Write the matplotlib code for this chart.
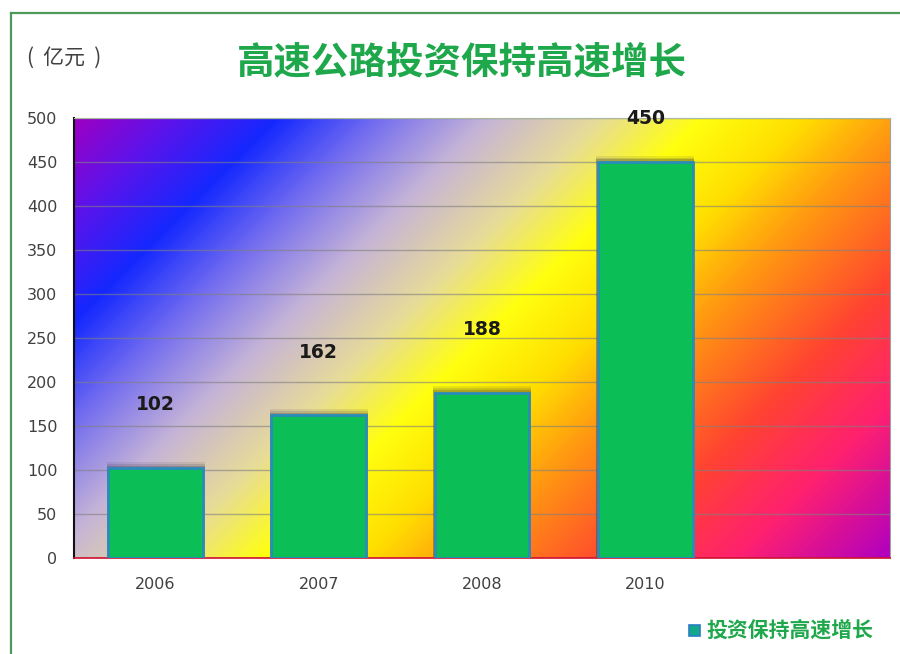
import matplotlib
matplotlib.use('Agg')
import matplotlib.pyplot as plt
import numpy as np
from matplotlib.colors import LinearSegmentedColormap
from matplotlib.patches import Rectangle
from matplotlib.lines import Line2D

# data
years   = ['2006', '2007', '2008', '2010', '']
values  = [102, 162, 188, 450]
title   = '高速公路投资保持高速增长'
unit    = '(  亿元  )'
series  = '投资保持高速增长'
yticks  = list(range(0, 501, 50))

cjk = ['Noto Sans CJK SC', 'DejaVu Sans']
green = '#1FA84B'

fig = plt.figure(figsize=(9, 6.54), dpi=100)
fig.patch.set_facecolor('white')

# outer green frame (left and top edges visible)
fig.add_artist(Line2D([11/900, 11/900], [0, 1 - 13/654], color='#4E9A5A', lw=1.6,
                      transform=fig.transFigure))
fig.add_artist(Line2D([11/900, 1], [1 - 13/654, 1 - 13/654], color='#4E9A5A', lw=1.6,
                      transform=fig.transFigure))

ax = fig.add_axes([74/900, 96/654, 816/900, 440/654])

# diagonal gradient background
stops = [(0.00, '#9C00C4'), (0.08, '#5A14EC'), (0.16, '#1428FF'), (0.25, '#7C74EE'),
         (0.33, '#C6B4D6'), (0.42, '#E8DC98'), (0.50, '#FFFF10'), (0.58, '#FFE000'),
         (0.66, '#FF9A10'), (0.78, '#FF4430'), (0.88, '#FF2070'), (1.00, '#B000C0')]
cmap = LinearSegmentedColormap.from_list('bg', stops)
uu, vv = np.meshgrid(np.arange(816), np.arange(440))
tt = (uu + vv) / (816 + 440)
ax.imshow(tt, cmap=cmap, extent=[0, 1, 0, 1], transform=ax.transAxes,
          aspect='auto', zorder=0, interpolation='bilinear')

x = np.arange(len(values))
# soft shadow on top of bars
for k, a in [(7, 0.10), (5, 0.15), (3, 0.22)]:
    ax.bar(x, [v + k for v in values], width=0.6, color='#303040', alpha=a,
           zorder=2.5, linewidth=0)
ax.bar(x, values, width=0.58, color='#0BBE55', edgecolor='#2A8CB8', linewidth=2, zorder=3)

for xi, v in zip(x, values):
    ax.text(xi, min(v + 72, 499), str(v), ha='center', va='center', fontsize=13.5,
            fontweight='bold', family='DejaVu Sans', color='#1A1A1A', zorder=5)

ax.set_xlim(-0.5, len(years) - 0.5)
ax.set_ylim(0, 500)
ax.set_yticks(yticks)
ax.set_yticklabels([str(t) for t in yticks], fontsize=11.5, color='#404040')
ax.set_xticks(range(len(years)))
ax.set_xticklabels(years, fontsize=11.5, color='#404040')
ax.tick_params(length=0, pad=12)
ax.tick_params(axis='x', pad=14)

ax.set_axisbelow(True)
ax.yaxis.grid(True, color='#808080', lw=1, alpha=0.6)
ax.spines['left'].set_color('#111111')
ax.spines['left'].set_linewidth(1.5)
ax.spines['bottom'].set_color('#D01030')
ax.spines['bottom'].set_linewidth(1.2)
ax.spines['top'].set_color('#A8B8A0')
ax.spines['right'].set_color('#A0A0A0')

fig.text(462/900, 1 - 62/654, title, ha='center', va='center', fontsize=27,
         fontweight='bold', family=cjk, color=green)
fig.text(27/900, 1 - 58/654, unit, ha='left', va='center', fontsize=15,
         family=cjk, color='#404040')

# legend
fig.add_artist(Rectangle((689/900, 1 - 636/654), 11/900, 11/654, transform=fig.transFigure,
                         facecolor='#12A888', edgecolor='#2A7CC8', lw=1.2))
fig.text(706/900, 1 - 630/654, series, ha='left', va='center', fontsize=15,
         fontweight='bold', family=cjk, color=green)

fig.savefig('out.png', dpi=100)
